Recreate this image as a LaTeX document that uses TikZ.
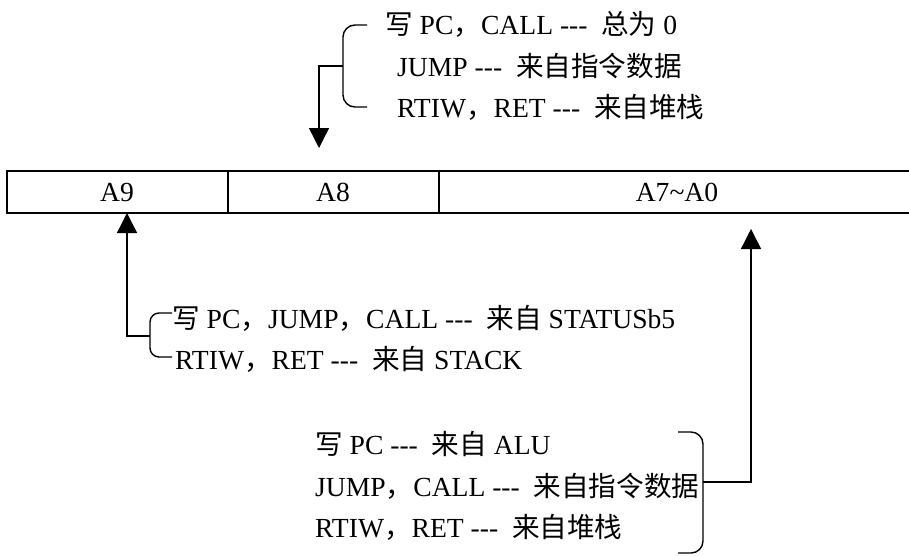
\documentclass[tikz,border=0pt]{standalone}
\usepackage{fontspec}
\setmainfont{Liberation Serif}
\newfontfamily\cjk{Noto Sans CJK SC}
\newcommand{\zh}[1]{{\cjk #1}}
\newcommand{\dashes}{\mbox{-}\mbox{-}\mbox{-}}
\usetikzlibrary{arrows.meta}

\begin{document}
\begin{tikzpicture}[x=1pt,y=-1pt,
	txt/.style={anchor=base west,inner sep=0pt,font=\fontsize{27.6}{32}\selectfont},
	cell/.style={inner sep=0pt,font=\fontsize{27.6}{32}\selectfont},
	reg/.style={line width=1.8pt},
	feed/.style={line width=1.4pt,-{Triangle[length=20pt,width=20pt]}},
	brk/.style={line width=1.4pt,rounded corners=12pt}]
	
	\useasboundingbox (0,0) rectangle (909,555);
	
	% register
	\draw[reg] (909,171) -- (7,171) -- (7,213) -- (909,213);
	\draw[reg] (228,171) -- (228,213);
	\draw[reg] (439,171) -- (439,213);
	\node[cell] (a9) at (117,192) {A9};
	\node[cell] (a8) at (333,192) {A8};
	\node[cell] (a70) at (677,192) {A7\textasciitilde A0};
	
	\coordinate (a8in) at (319,148);
	\coordinate (a9in) at (127,213);
	\coordinate (a70in) at (751,229);
	
	% A8
	\node[txt] (t1) at (385,34) {\zh{写} PC\zh{，}CALL \dashes\ \ \zh{总为} 0};
	\node[txt] (t2) at (397,76) {JUMP \dashes\ \ \zh{来自指令数据}};
	\node[txt] (t3) at (397,117) {RTIW\zh{，}RET \dashes\ \ \zh{来自堆栈}};
	\coordinate (tb) at (343,66);
	\draw[brk] (367,25) -- (343,25) -- (343,107) -- (367,107);
	\draw[feed] (tb) -- (tb -| a8in) -- (a8in);
	
	% A9
	\node[txt] (m1) at (172,328) {\zh{写} PC\zh{，}JUMP\zh{，}CALL \dashes\ \ \zh{来自} STATUSb5};
	\node[txt] (m2) at (175,369) {RTIW\zh{，}RET \dashes\ \ \zh{来自} STACK};
	\coordinate (mb) at (150,336);
	\draw[brk,rounded corners=9pt] (172,313) -- (150,313) -- (150,357) -- (172,357);
	\draw[feed] (mb) -- (mb -| a9in) -- (a9in);
	
	% A7~A0
	\node[txt] (b1) at (315,454) {\zh{写} PC \dashes\ \ \zh{来自} ALU};
	\node[txt] (b2) at (315,496) {JUMP\zh{，}CALL \dashes\ \ \zh{来自指令数据}};
	\node[txt] (b3) at (315,537) {RTIW\zh{，}RET \dashes\ \ \zh{来自堆栈}};
	\coordinate (bb) at (703,482);
	\draw[brk] (678,432) -- (703,432) -- (703,553) -- (678,553);
	\draw[feed] (bb) -- (bb -| a70in) -- (a70in);
	
\end{tikzpicture}
\end{document}
